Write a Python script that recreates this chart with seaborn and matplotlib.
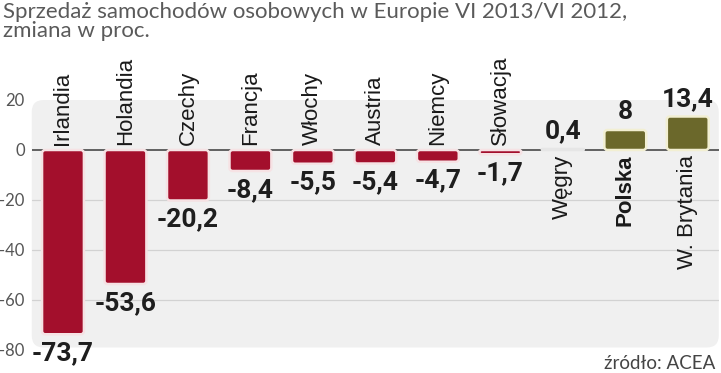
import numpy as np
import pandas as pd
import matplotlib
matplotlib.use("Agg")
import matplotlib.pyplot as plt
import seaborn as sns
from matplotlib.patches import FancyBboxPatch

countries = ["Irlandia", "Holandia", "Czechy", "Francja", "Włochy", "Austria",
             "Niemcy", "Słowacja", "Węgry", "Polska", "W. Brytania"]
values = [-73.7, -53.6, -20.2, -8.4, -5.5, -5.4, -4.7, -1.7, 0.4, 8.0, 13.4]
yticks = [20, 0, -20, -40, -60, -80]

RED = "#a30f2c"
OLIVE = "#6b682b"
GRAY = "#9a9a9a"
colors = [RED] * 8 + [GRAY, OLIVE, OLIVE]

data = pd.DataFrame({"kraj": countries, "zmiana": values})

sns.set_style("white")
plt.rcParams["font.family"] = ["Liberation Sans", "DejaVu Sans"]

fig = plt.figure(figsize=(7.21, 3.73), dpi=100)
ax = fig.add_axes([31.75 / 721, 23 / 373, 687.25 / 721, 250 / 373])
ax.set_facecolor("none")

# grey rounded panel behind the plot
panel = FancyBboxPatch((0.3175, 0.255), 6.87, 2.475,
                       boxstyle="round,pad=0,rounding_size=0.12",
                       transform=fig.dpi_scale_trans, facecolor="#f0f0f0",
                       edgecolor="none", zorder=-1)
fig.add_artist(panel)

sns.barplot(data=data, x="kraj", y="zmiana", hue="kraj", palette=colors,
            legend=False, width=0.67, ax=ax, zorder=3)

# swap plain rectangles for rounded ones
edge = {RED: "#f6e2e4", OLIVE: "#f2efd2", GRAY: "#e6e6e6"}
for rect, c in zip(list(ax.patches), colors):
    x0, y0 = rect.get_x(), rect.get_y()
    w, h = rect.get_width(), rect.get_height()
    rr = min(0.05, abs(h) / 25 / 2)
    nb = FancyBboxPatch((x0, min(y0, y0 + h)), w, abs(h),
                        boxstyle=f"round,pad=0,rounding_size={rr}",
                        mutation_aspect=25, facecolor=c, edgecolor=edge[c],
                        linewidth=1.8, zorder=3)
    rect.remove()
    ax.add_patch(nb)

ax.set_xlim(-0.5, 10.5)
ax.set_ylim(-80, 20)
ax.set_yticks(yticks)
ax.set_yticklabels([str(t) for t in yticks])
ax.set_xticks([])
ax.set_xlabel("")
ax.set_ylabel("")
ax.tick_params(axis="y", length=0, pad=5, labelsize=12, labelcolor="#555555")
for lbl in ax.get_yticklabels():
    lbl.set_fontfamily(["Lato", "DejaVu Sans"])
sns.despine(ax=ax, left=True, bottom=True)

for t in [-20, -40, -60]:
    ax.axhline(t, color="#d2d2d2", lw=0.9, zorder=1)
ax.axhline(0, color="#555555", lw=1.3, zorder=2)

num_font = ["Roboto", "DejaVu Sans"]
for i, (name, v) in enumerate(zip(countries, values)):
    lab = f"{v:g}".replace(".", ",")
    bold = "bold" if name == "Polska" else "normal"
    if v < 0:
        ax.text(i, 2.0, name, rotation=90, ha="center", va="bottom",
                fontsize=16, color="#1a1a1a", fontweight=bold)
        ax.annotate(lab, (i, v), xytext=(0, -5), textcoords="offset points",
                    ha="center", va="top", fontsize=19, fontweight="bold",
                    color="#1e1e1e", family=num_font)
    else:
        ax.text(i, -2.0, name, rotation=90, ha="center", va="top",
                fontsize=16, color="#1a1a1a", fontweight=bold)
        ax.annotate(lab, (i, v), xytext=(0, 4), textcoords="offset points",
                    ha="center", va="bottom", fontsize=19, fontweight="bold",
                    color="#1e1e1e", family=num_font)

fig.text(3 / 721, 1 - 2 / 373,
         "Sprzedaż samochodów osobowych w Europie VI 2013/VI 2012,\nzmiana w proc.",
         ha="left", va="top", fontsize=16, color="#5a5a5a",
         family=["Lato", "DejaVu Sans"], linespacing=0.95)
fig.text(1 - 6 / 721, 1 / 373, "źródło: ACEA", ha="right", va="bottom",
         fontsize=13.5, color="#444444", family=["Lato", "DejaVu Sans"])

fig.savefig("out.png", dpi=100)
